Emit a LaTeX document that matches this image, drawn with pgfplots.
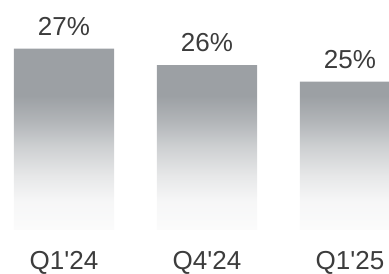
\documentclass[border=0pt]{standalone}
\usepackage{fontspec}
\setmainfont{Liberation Sans}
\usepackage{pgfplots}
\usepackage{pgfplotstable}
\pgfplotsset{compat=1.18}
\definecolor{barg}{RGB}{156,160,164}
\definecolor{txt}{RGB}{60,60,60}
\pgfdeclareverticalshading{barfade}{100bp}{color(0bp)=(white); color(25bp)=(barg!4); color(33bp)=(barg!9); color(40bp)=(barg!25); color(48bp)=(barg!50); color(55bp)=(barg!78); color(62bp)=(barg); color(100bp)=(barg)}
\pgfplotstableread{
x v
0 27
1 26
2 25
}\data
\begin{document}
\begin{tikzpicture}
\begin{axis}[
  at={(0,0)}, anchor=south west,
  scale only axis, width=389bp, height=274bp,
  xmin=-0.4476, xmax=2.2727,
  ymin=-2.667, ymax=13.94,
  axis line style={draw=none},
  major tick length=0pt,
  ymajorticks=false,
  xtick={0,1,2},
  xticklabels={Q1\textquotesingle24,Q4\textquotesingle24,Q1\textquotesingle25},
  xticklabel style={font=\fontsize{26bp}{30bp}\selectfont, text=txt, anchor=base, yshift=4.5bp, inner sep=0pt},
  x tick label as interval=false,
]
\addplot[ybar, bar width=0.70, draw=none, shading=barfade, shade,
  point meta=explicit symbolic,
  nodes near coords={\pgfplotspointmeta\%},
  every node near coord/.append style={font=\fontsize{26bp}{30bp}\selectfont, text=txt, inner sep=0pt, yshift=13bp}]
  table[x=x, y expr=\thisrow{v}-16, meta=v] {\data};
\end{axis}
\pgfresetboundingbox
\path[use as bounding box] (0,0) rectangle (389bp,274bp);
\end{tikzpicture}
\end{document}
